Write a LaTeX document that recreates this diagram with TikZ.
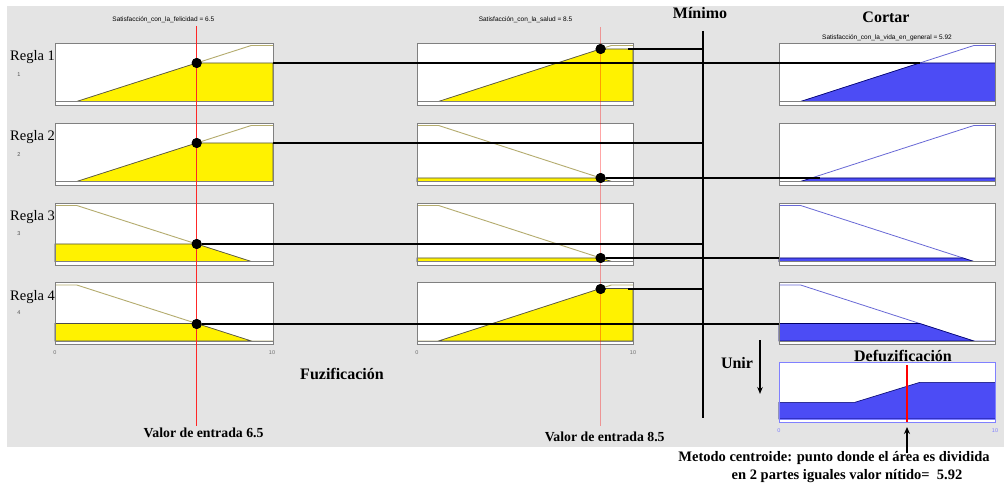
\documentclass[tikz,border=0pt]{standalone}
\usepackage{fontspec}
\setmainfont{Liberation Serif}
\newfontfamily\arialf{Liberation Sans}
\usetikzlibrary{arrows.meta}
\definecolor{bggray}{RGB}{228,228,228}
\definecolor{olivemf}{RGB}{180,172,110}
\definecolor{bluefill}{RGB}{76,76,245}
\definecolor{bluemf}{RGB}{104,104,214}
\definecolor{lightblue}{RGB}{128,128,255}
\definecolor{tickgray}{RGB}{110,110,110}
\def\incMF{(0,0)--(1,0)--(9,1)--(10,1)}
\def\decMF{(0,1)--(1,1)--(9,0)--(10,0)}
\newcommand\mfpanel[6]{%
  \begin{scope}[shift={(#1,#2)},x=#3pt,y=56pt]
    \fill[white] (0,-0.0625) rectangle (10,1.0446);
    \draw[#6mf] #4;
    \path[#6fill] #5;
    \draw[panelframe] (0,-0.0625) rectangle (10,1.0446);
    \draw[panelframe] (0,0) -- (10,0);
  \end{scope}}
\tikzset{
  panelframe/.style={draw=black!50, line width=0.8pt},
  infill/.style={fill=yellow, draw=black!70, line width=0.6pt},
  inmf/.style={draw=olivemf, line width=0.9pt},
  outfill/.style={fill=bluefill, draw=black!60!blue, line width=0.6pt},
  outmf/.style={draw=bluemf, line width=0.8pt},
  conn/.style={draw=black, line width=2pt},
  minline/.style={draw=black, line width=2.2pt},
  dot/.style={circle, fill=black, inner sep=0pt, minimum size=10pt},
  head/.style={font=\fontsize{16}{18}\selectfont\bfseries},
  valor/.style={font=\fontsize{13.8}{16}\selectfont\bfseries},
  note/.style={font=\fontsize{14.5}{17}\selectfont\bfseries},
  regla/.style={font=\fontsize{14.5}{16}\selectfont},
  tiny/.style={font=\arialf\fontsize{5.5}{6}\selectfont, text=tickgray},
  vartitle/.style={font=\arialf\fontsize{6.5}{7}\selectfont},
  inred/.style={draw=red!85, line width=0.8pt},
  inred2/.style={draw=red, opacity=0.35, line width=1.6pt},
}
\begin{document}
\begin{tikzpicture}[x=1pt,y=-1pt]
\useasboundingbox (0,0) rectangle (1004,486);
\fill[white] (0,0) rectangle (1004,486);
\fill[bggray] (7,6.5) rectangle (1004,447);

% column 1 (Satisfaccion con la felicidad)
\mfpanel{55}{101.5}{21.8}{\incMF}{(1,0)--(6.5,0.6875)--(10,0.6875)--(10,0)--cycle}{in}
\mfpanel{55}{181.5}{21.8}{\incMF}{(1,0)--(6.5,0.6875)--(10,0.6875)--(10,0)--cycle}{in}
\mfpanel{55}{261.5}{21.8}{\decMF}{(0,0)--(0,0.3125)--(6.5,0.3125)--(9,0)--cycle}{in}
\mfpanel{55}{341}{21.8}{\decMF}{(0,0)--(0,0.3125)--(6.5,0.3125)--(9,0)--cycle}{in}
% column 2 (Satisfaccion con la salud)
\mfpanel{417}{101.5}{21.6}{\incMF}{(1,0)--(8.5,0.9375)--(10,0.9375)--(10,0)--cycle}{in}
\mfpanel{417}{181.5}{21.6}{\decMF}{(0,0)--(0,0.0625)--(8.5,0.0625)--(9,0)--cycle}{in}
\mfpanel{417}{261.5}{21.6}{\decMF}{(0,0)--(0,0.0625)--(8.5,0.0625)--(9,0)--cycle}{in}
\mfpanel{417}{341}{21.6}{\incMF}{(1,0)--(8.5,0.9375)--(10,0.9375)--(10,0)--cycle}{in}
% column 3 (Cortar)
\mfpanel{779}{101.5}{21.65}{\incMF}{(1,0)--(6.5,0.6875)--(10,0.6875)--(10,0)--cycle}{out}
\mfpanel{779}{181.5}{21.65}{\incMF}{(1,0)--(1.5,0.0625)--(10,0.0625)--(10,0)--cycle}{out}
\mfpanel{779}{261.5}{21.65}{\decMF}{(0,0)--(0,0.0625)--(8.5,0.0625)--(9,0)--cycle}{out}
\mfpanel{779}{341}{21.65}{\decMF}{(0,0)--(0,0.3125)--(6.5,0.3125)--(9,0)--cycle}{out}

% defuzzification panel
\begin{scope}[shift={(779,419)},x=21.65pt,y=53.3pt]
  \fill[white] (0,-0.062) rectangle (10,1.069);
  \path[outfill] (0,0)--(0,0.3125)--(3.5,0.3125)--(6.5,0.6875)--(10,0.6875)--(10,0)--cycle;
  \draw[draw=lightblue, line width=0.8pt] (0,-0.062) rectangle (10,1.069);
  \draw[draw=lightblue, line width=0.6pt] (0,0) -- (10,0);
  \coordinate (ctop) at (5.92,1.01);
  \coordinate (cbot) at (5.92,-0.05);
\end{scope}
\draw[draw=red, line width=2.4pt] (ctop) -- (cbot);

% tick labels
\node[tiny] (t1a) at (55,352.5) {0};
\node[tiny] (t1b) at (272,352.5) {10};
\node[tiny] (t2a) at (417,352.5) {0};
\node[tiny] (t2b) at (633,352.5) {10};
\node[tiny, text=lightblue] (t3a) at (779,431) {0};
\node[tiny, text=lightblue] (t3b) at (995,431) {10};

% input value lines
\coordinate (r1top) at (196.7,26);
\coordinate (r1bot) at (196.7,425.5);
\coordinate (r2top) at (600.6,27);
\coordinate (r2bot) at (600.6,425.5);
\draw[inred] (r1top) -- (r1bot);
\draw[inred2] (r2top) -- (r2bot);

% dots
\node[dot] (a1) at (196.7,63) {};
\node[dot] (a2) at (196.7,143) {};
\node[dot] (a3) at (196.7,244) {};
\node[dot] (a4) at (196.7,324) {};
\node[dot] (b1) at (600.6,49) {};
\node[dot] (b2) at (600.6,178) {};
\node[dot] (b3) at (600.6,258) {};
\node[dot] (b4) at (600.6,289) {};

% Minimo line
\coordinate (mtop) at (703,31);
\coordinate (mbot) at (703,417.5);
\draw[minline] (mtop) -- (mbot);

% connector end points
\coordinate (a1s) at (273,63);
\coordinate (a2s) at (273,143);
\coordinate (b1s) at (628,49);
\coordinate (b4s) at (628,289);
\coordinate (c1) at (920,63);
\coordinate (c2) at (820,178);
\coordinate (c3) at (779,258);
\coordinate (c4) at (779,324);

\draw[conn] (a1s) -- (c1);
\draw[conn] (a2s) -- (a2s -| mtop);
\draw[conn] (a3) -- (a3 -| mtop);
\draw[conn] (a4) -- (c4);
\draw[conn] (b1s) -- (b1s -| mtop);
\draw[conn] (b2) -- (c2);
\draw[conn] (b3) -- (c3);
\draw[conn] (b4s) -- (b4s -| mtop);

% redraw dots on top
\foreach \n in {a1,a2,a3,a4,b1,b2,b3,b4} \fill (\n) circle (5);

% arrows
\coordinate (u1) at (760,340);
\coordinate (u2) at (760,394);
\draw[line width=1.2pt, -{Stealth[length=7pt,width=5.5pt]}] (u1) -- (u2);
\coordinate (v1) at (907,453);
\coordinate (v2) at (907,427);
\draw[line width=1.6pt, -{Stealth[length=7pt,width=6pt]}] (v1) -- (v2);

% titles
\node[vartitle] (ti1) at (163.3,20) {Satisfacción\_con\_la\_felicidad = 6.5};
\node[vartitle] (ti2) at (525.5,20) {Satisfacción\_con\_la\_salud = 8.5};
\node[vartitle] (ti3) at (887,37.3) {Satisfacción\_con\_la\_vida\_en\_general = 5.92};

% rule labels
\node[regla] (g1) at (32.5,57) {Regla 1};
\node[regla] (g2) at (32.5,137) {Regla 2};
\node[regla] (g3) at (32.5,217) {Regla 3};
\node[regla] (g4) at (32.5,297) {Regla 4};
\node[tiny, text=black!70] (n1) at (19,75) {1};
\node[tiny, text=black!70] (n2) at (19,155) {2};
\node[tiny, text=black!70] (n3) at (19,234) {3};
\node[tiny, text=black!70] (n4) at (19,313) {4};

% headings
\node[head] (hmin) at (700,13.5) {Mínimo};
\node[head] (hcor) at (886,17) {Cortar};
\node[head] (hfuz) at (342,373.5) {Fuzificación};
\node[head] (hdef) at (903,355.5) {Defuzificación};
\node[head] (hunir) at (737,363) {Unir};
\node[valor] (val1) at (203.6,433) {Valor de entrada 6.5};
\node[valor] (val2) at (604.7,437) {Valor de entrada 8.5};
\node[note] (m1) at (834,458.5) {Metodo centroide: punto donde el área es dividida};
\node[note] (m2) at (847,476) {en 2 partes iguales valor nítido=~~5.92};
\end{tikzpicture}
\end{document}
